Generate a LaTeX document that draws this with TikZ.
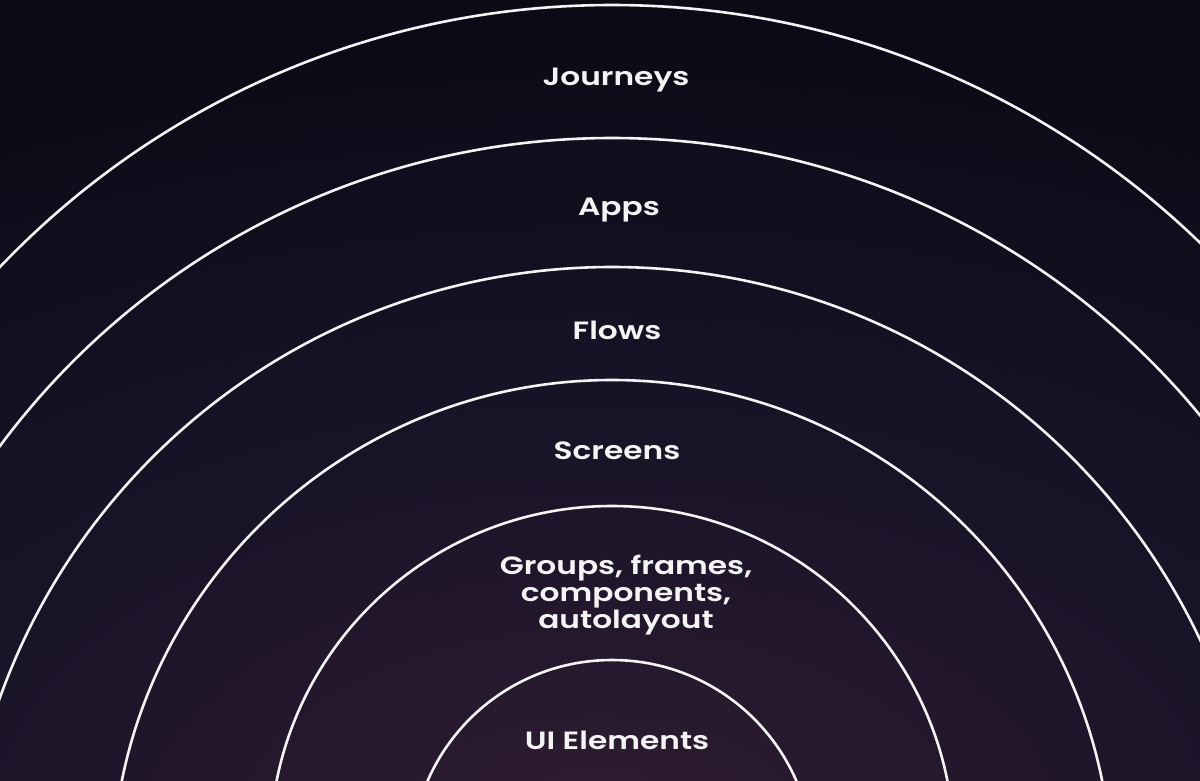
\documentclass[tikz,border=0pt]{standalone}
\usepackage{fontspec}
\setmainfont{Poppins}[FakeStretch=1.25, BoldFont={Poppins SemiBold}]
\usepackage{xcolor}
\usepackage{tikz}
\definecolor{bgtop}{HTML}{08070F}
\definecolor{bgdark}{HTML}{0D0A17}
\definecolor{bgmid}{HTML}{1A1429}
\definecolor{bgbot}{HTML}{301C32}
\definecolor{ringcol}{HTML}{F4F4F4}
\pgfdeclareradialshading{bgglow}{\pgfpoint{0bp}{0bp}}{%
  color(0bp)=(bgbot); color(9bp)=(bgmid); color(20bp)=(bgdark);
  color(30bp)=(bgtop); color(50bp)=(bgtop)}

\begin{document}
\begin{tikzpicture}[x=1pt, y=-1pt]
\tikzstyle{ring}=[draw=ringcol, line width=2.6pt]
\tikzstyle{lbl}=[text=ringcol, inner sep=0pt, align=center,
                 font=\bfseries\fontsize{25}{27}\selectfont]

\useasboundingbox (0,0) rectangle (1200,780);
\begin{scope}
\clip (0,0) rectangle (1200,780);
\shade[shading=bgglow] (600,830) ellipse [x radius=1800pt, y radius=1000pt];
% rings, outermost first
\foreach \cy/\r in {851/846, 900/762, 917/650, 880/500, 848/342, 861/201}
  \draw[ring] (612,\cy) circle [radius=\r pt];
\end{scope}

\node[lbl] (journeys) at (616,80)  {Journeys};
\node[lbl] (apps)     at (619,210) {Apps};
\node[lbl] (flows)    at (617,330) {Flows};
\node[lbl] (screens)  at (617,451) {Screens};
\node[lbl] (groups)   at (626,595) {Groups, frames,\\components,\\autolayout};
\node[lbl] (ui)       at (617,740) {UI Elements};

\end{tikzpicture}
\end{document}
